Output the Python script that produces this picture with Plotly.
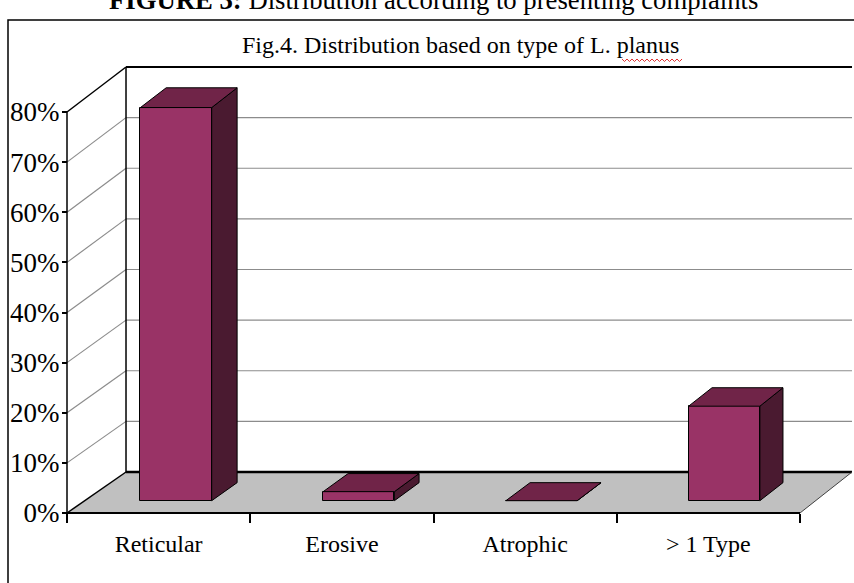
import plotly.graph_objects as go

# ---------------- data ----------------
categories = ["Reticular", "Erosive", "Atrophic", "> 1 Type"]
values = [78.2, 1.8, 0.0, 18.8]          # percent
y_ticks = [0, 10, 20, 30, 40, 50, 60, 70, 80]
y_tick_labels = [f"{t}%" for t in y_ticks]
title_text = "Fig.4. Distribution based on type of L. planus"
caption_bold = "FIGURE 3:"
caption_rest = " Distribution according to presenting complaints"

# ---------------- layout constants (pixels) ----------------
W, H = 854, 583
FL, FR = 67, 800          # front plane left/right x
FY0, FPP = 513, 5.0125    # front floor y, px per percent
BL, BR = 126, 852         # back plane left/right x
BY0, BPP = 472, 5.0625    # back floor y, px per percent
NCAT = len(categories)
CAT_PX = (FR - FL) / NCAT
BAR_HALF = 0.195          # half bar width (category units)
W0, W1 = 0.30, 0.74       # bar depth range (0 front .. 1 back)
VMAX = y_ticks[-1]

FRONT = "#993366"
TOP = "#702448"
SIDE = "#4a1a30"
FLOOR = "#c0c0c0"
GRID = "#8c8c8c"
SERIF = "Liberation Serif, Times New Roman, serif"


def px_to_u(px):
    return (px - FL) / CAT_PX


def py_to_v(py):
    return (FY0 - py) / FPP


def proj(u, v, w):
    """project (category position, value, depth) onto the 2D axes"""
    xf = FL + u * CAT_PX
    xb = BL + u * (BR - BL) / NCAT
    yf = FY0 - v * FPP
    yb = BY0 - v * BPP
    return px_to_u(xf + w * (xb - xf)), py_to_v(yf + w * (yb - yf))


def path(points, close=True):
    s = "M " + " L ".join(f"{x:.4f},{y:.4f}" for x, y in points)
    return s + (" Z" if close else "")


shapes = []


def seg(p, q, color="black", width=1.5):
    shapes.append(dict(type="path", xref="x", yref="y", layer="below",
                       path=path([p, q], close=False),
                       line=dict(color=color, width=width)))


# chart frame
shapes.append(dict(type="rect", xref="paper", yref="paper", layer="below",
                   x0=8 / W, x1=1.2, y0=-0.2, y1=1 - 20 / H,
                   line=dict(color="black", width=1.5), fillcolor="white"))

# floor
floor_pts = [proj(0, 0, 0), proj(NCAT, 0, 0), proj(NCAT, 0, 1), proj(0, 0, 1)]
shapes.append(dict(type="path", xref="x", yref="y", layer="below",
                   path=path(floor_pts), fillcolor=FLOOR, line=dict(width=0)))

# gridlines on left wall and back wall
for t in y_ticks[1:-1]:
    seg(proj(0, t, 0), proj(0, t, 1), GRID, 1.2)
    seg(proj(0, t, 1), proj(NCAT, t, 1), GRID, 1.2)

# wall / floor edges
seg(proj(0, 0, 0), proj(0, VMAX, 0), "black", 1.5)
seg(proj(0, 0, 1), proj(0, VMAX, 1), "black", 1.5)
seg(proj(0, VMAX, 0), proj(0, VMAX, 1), "black", 1.5)
seg(proj(0, VMAX, 1), proj(NCAT, VMAX, 1), "black", 2)
seg(proj(0, 0, 0), proj(NCAT, 0, 0), "black", 2)
seg(proj(0, 0, 0), proj(0, 0, 1), "black", 1.5)
seg(proj(0, 0, 1), proj(NCAT, 0, 1), "black", 2.5)
seg(proj(NCAT, 0, 0), proj(NCAT, 0, 1), "#404040", 1)

fig = go.Figure()

# bar front faces
centers, bases, heights, widths = [], [], [], []
for i, v in enumerate(values):
    c = i + 0.5
    xl, yb = proj(c - BAR_HALF, 0, W0)
    xr, _ = proj(c + BAR_HALF, 0, W0)
    _, yt = proj(c, v, W0)
    centers.append((xl + xr) / 2)
    widths.append(xr - xl)
    bases.append(yb)
    heights.append(yt - yb)

fig.add_trace(go.Bar(x=centers, y=heights, base=bases, width=widths,
                     marker=dict(color=FRONT, line=dict(color="black", width=1)),
                     hoverinfo="skip", showlegend=False))

# side and top faces
sx, sy, tx, ty = [], [], [], []
for i, v in enumerate(values):
    c = i + 0.5
    u0, u1 = c - BAR_HALF, c + BAR_HALF
    side = [proj(u1, 0, W0), proj(u1, v, W0), proj(u1, v, W1), proj(u1, 0, W1), proj(u1, 0, W0)]
    top = [proj(u0, v, W0), proj(u1, v, W0), proj(u1, v, W1), proj(u0, v, W1), proj(u0, v, W0)]
    for p in side:
        sx.append(p[0]); sy.append(p[1])
    sx.append(None); sy.append(None)
    for p in top:
        tx.append(p[0]); ty.append(p[1])
    tx.append(None); ty.append(None)

fig.add_trace(go.Scatter(x=sx, y=sy, mode="lines", fill="toself", fillcolor=SIDE,
                         line=dict(color="black", width=1), hoverinfo="skip",
                         showlegend=False))
fig.add_trace(go.Scatter(x=tx, y=ty, mode="lines", fill="toself", fillcolor=TOP,
                         line=dict(color="black", width=1), hoverinfo="skip",
                         showlegend=False))

# red wavy spell-check underline under "planus"
wx0, wx1, wy = 622, 684, 60
pts = []
k = 0
x = wx0
while x <= wx1:
    pts.append(((x) / W, 1 - (wy + (1.5 if k % 2 else -1.0)) / H))
    x += 2.5
    k += 1
shapes.append(dict(type="path", xref="paper", yref="paper", layer="above",
                   path=path(pts, close=False), line=dict(color="#e03030", width=1)))

annotations = [
    dict(text=title_text, x=460 / W, y=1 - 45 / H, xref="paper", yref="paper",
         xanchor="center", yanchor="middle", showarrow=False,
         font=dict(family=SERIF, size=24, color="black")),
    dict(text=f"<b>{caption_bold}</b>{caption_rest}", x=433 / W, y=1 - 0 / H,
         xref="paper", yref="paper", xanchor="center", yanchor="middle",
         showarrow=False, font=dict(family=SERIF, size=26.7, color="black")),
]

fig.update_layout(
    width=W, height=H, margin=dict(l=0, r=0, t=0, b=0),
    paper_bgcolor="white", plot_bgcolor="white", showlegend=False,
    shapes=shapes, annotations=annotations, bargap=0,
    xaxis=dict(range=[px_to_u(0), px_to_u(W)], anchor="free", position=(H - FY0) / H,
               tickmode="array", tickvals=[i + 0.5 for i in range(NCAT)],
               ticktext=categories, ticks="", showgrid=False, zeroline=False,
               showline=False, fixedrange=True, ticklabelstandoff=14,
               tickfont=dict(family=SERIF, size=24, color="black"),
               minor=dict(tickmode="array", tickvals=list(range(NCAT + 1)),
                          ticks="outside", ticklen=9, tickwidth=1.5,
                          tickcolor="black", showgrid=False)),
    yaxis=dict(range=[py_to_v(H), py_to_v(0)], anchor="free", position=FL / W,
               tickmode="array", tickvals=y_ticks, ticktext=y_tick_labels,
               ticks="outside", ticklen=5, tickwidth=1.5, tickcolor="black",
               showgrid=False, zeroline=False, showline=False, fixedrange=True,
               ticklabelstandoff=-3,
               tickfont=dict(family=SERIF, size=27, color="black")),
)

fig.write_html("out.html", config={"displayModeBar": False},
               post_script="document.body.style.margin='0';document.body.style.overflow='hidden';")
